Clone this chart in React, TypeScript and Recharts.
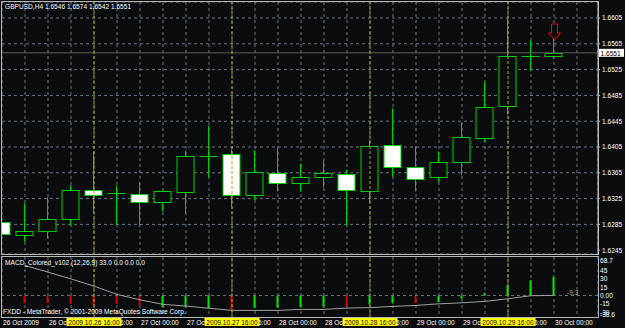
import {
  ComposedChart,
  Bar,
  Line,
  Scatter,
  XAxis,
  YAxis,
  CartesianGrid,
  ReferenceLine,
  Cell,
} from "recharts";

// GBPUSD H4, 26-30 Oct 2009
const opens = [1.6289, 1.6268, 1.6274, 1.6293, 1.6339, 1.6333, 1.6332, 1.632, 1.6336, 1.6391, 1.6394, 1.633, 1.6364, 1.6349, 1.6359, 1.6363, 1.6337, 1.6408, 1.6374, 1.6358, 1.6382, 1.6419, 1.6468, 1.6546, 1.6546];
const highs = [1.6326, 1.6318, 1.6327, 1.6346, 1.6398, 1.6345, 1.635, 1.6338, 1.6399, 1.6438, 1.6401, 1.64, 1.6403, 1.6379, 1.6384, 1.637, 1.6416, 1.6465, 1.6406, 1.6398, 1.6442, 1.6506, 1.6605, 1.657, 1.6574];
const lows = [1.6248, 1.6258, 1.6263, 1.6283, 1.6304, 1.6284, 1.6283, 1.6305, 1.6302, 1.6358, 1.6312, 1.6323, 1.6336, 1.6336, 1.6342, 1.6283, 1.632, 1.6359, 1.6336, 1.635, 1.6361, 1.6413, 1.6455, 1.6523, 1.6542];
const closes = [1.627, 1.6275, 1.6294, 1.6339, 1.6331, 1.6333, 1.632, 1.6337, 1.6391, 1.6391, 1.6331, 1.6366, 1.6349, 1.6359, 1.6364, 1.6339, 1.6407, 1.6374, 1.6356, 1.6381, 1.6421, 1.6467, 1.6546, 1.6546, 1.6551];

// MACD_Colored_v102 (12,26,9)
const macd = [null, -13.8, -13.8, -15, -17.9, -15, -17.9, -20.9, -20.9, -23, -25, -22, -22, -20.5, -20, -19.6, -16, -14, -14, -12, -6, 4, 18, 27, 33];
const signal = [null, 53.6, 41.6, 29.6, 16.6, 1.8, -7.9, -16, -19, -23, -26.8, -26.8, -26.8, -25, -25, -22.7, -21.8, -19.6, -17.9, -15, -13.2, -10.7, -6, -0.5, 0];
const macdRising = [false, false, false, false, false, false, false, true, true, true, false, true, true, true, true, false, true, true, false, true, true, true, true, true, true];

const timeLabels = ["26 Oct 2009", "26 Oct 08:00", "26 Oct 16:00", "27 Oct 00:00", "27 Oct 08:00", "27 Oct 16:00", "28 Oct 00:00", "28 Oct 08:00", "28 Oct 16:00", "29 Oct 00:00", "29 Oct 08:00", "29 Oct 16:00", "30 Oct 00:00"];
const markerIdx = [4, 10, 16, 22];
const markerLabels = ["2009.10.26 16:00", "2009.10.27 16:00", "2009.10.28 16:00", "2009.10.29 16:00"];

const priceTicks = [1.6245, 1.6285, 1.6325, 1.6365, 1.6405, 1.6445, 1.6485, 1.6525, 1.6565, 1.6605];
const bid = 1.6551;
const arrowData = [{ i: 24, price: 1.6574 }];

const macdMin = -38.6;
const macdMax = 68.7;
const macdTicks = [macdMin, -30, -15, 0, 15, 30, 45, macdMax];

const candles = opens.map((o, i) => ({
  i,
  open: o,
  high: highs[i],
  low: lows[i],
  close: closes[i],
  range: [lows[i], highs[i]],
}));

const macdData = macd.map((v, i) => ({ i, macd: v, signal: signal[i], rising: macdRising[i] }));

const slots = Array.from({ length: 26 }, (_, i) => i);
const X_MAX = 596 / 23;

const BG = "#0a0c0e";
const GREEN = "#00d000";
const GRID = "#6c7784";
const YELLOW = "#a8a800";
const FONT = "'Liberation Sans', Arial, sans-serif";
const FS = 6.6;

function Candle(props: any) {
  const { x, y, width, height, payload } = props;
  if (x == null || payload == null) return null;
  const { open, close, high, low } = payload;
  const top = Math.min(y, y + height);
  const h = Math.abs(height);
  const py = (p: number) => top + ((high - p) / (high - low)) * h;
  const cx = Math.floor(x + width / 2) + 0.5;
  const bTop = Math.round(py(Math.max(open, close))) + 0.5;
  const bBot = Math.round(py(Math.min(open, close))) + 0.5;
  const bear = close < open;
  return (
    <g>
      <line x1={cx} x2={cx} y1={top} y2={top + h} stroke={GREEN} strokeWidth={1} />
      {open === close ? (
        <line x1={cx - 9} x2={cx + 9} y1={bTop} y2={bTop} stroke={GREEN} strokeWidth={1} />
      ) : (
        <rect
          x={cx - 8.5}
          y={bTop}
          width={17}
          height={Math.max(bBot - bTop, 1)}
          fill={bear ? "#ffffff" : BG}
          stroke={GREEN}
          strokeWidth={1}
        />
      )}
    </g>
  );
}

function Arrow(props: any) {
  const { cx, cy } = props;
  if (cx == null) return null;
  const x = Math.floor(cx) + 0.5;
  const d = `M${x - 3},${cy - 14} L${x + 3},${cy - 14} L${x + 3},${cy - 5} L${x + 6},${cy - 5} L${x},${cy + 1.5} L${x - 6},${cy - 5} L${x - 3},${cy - 5} Z`;
  return <path d={d} fill={BG} stroke="#ff0000" strokeWidth={1} />;
}

function BidLabel(props: any) {
  const vb = props.viewBox;
  if (!vb) return null;
  const x = vb.x + vb.width + 1;
  return (
    <g>
      <rect x={x} y={vb.y - 4} width={25} height={8} fill="#ffffff" />
      <text x={x + 1.5} y={vb.y + 0.5} fontSize={FS} fontFamily={FONT} fill="#000" dominantBaseline="central">
        {bid.toFixed(4)}
      </text>
    </g>
  );
}

function TimeTick(props: any) {
  const { x, y, payload } = props;
  const i = payload.value;
  const m = markerIdx.indexOf(i);
  const ty = y + 5;
  return (
    <g>
      {i % 2 === 0 && timeLabels[i / 2] ? (
        <text x={x + 1} y={ty} fontSize={FS} fontFamily={FONT} fill="#ffffff" dominantBaseline="central">
          {timeLabels[i / 2]}
        </text>
      ) : null}
      {m >= 0 ? (
        <g>
          <rect x={x - 27.5} y={ty - 4} width={55} height={8} fill="#ffff00" />
          <text x={x} y={ty} fontSize={FS} fontFamily={FONT} fill="#000" textAnchor="middle" dominantBaseline="central">
            {markerLabels[m]}
          </text>
        </g>
      ) : null}
    </g>
  );
}

function MacdTick(props: any) {
  const { x, y, payload } = props;
  const v = payload.value;
  const text = v === 0 ? "0.00" : String(v);
  const dy = v === macdMax ? 3 : v === macdMin ? -3 : 0;
  return (
    <text x={x} y={y + dy} fontSize={FS} fontFamily={FONT} fill="#ffffff" dominantBaseline="central">
      {text}
    </text>
  );
}

export default function App() {
  return (
    <div style={{ position: "absolute", left: 0, top: 0, width: 625, height: 328, background: BG, overflow: "hidden" }}>
      <div style={{ position: "absolute", left: 0, top: 0 }}>
        <ComposedChart width={625} height={256} data={candles} margin={{ top: 2, right: 0, bottom: 2, left: 2 }}>
          <CartesianGrid stroke={GRID} strokeDasharray="3 3" />
          <XAxis dataKey="i" type="number" domain={[0, X_MAX]} ticks={slots} allowDataOverflow hide />
          <YAxis
            type="number"
            orientation="right"
            width={27}
            domain={[1.623911, 1.662981]}
            allowDataOverflow
            ticks={priceTicks}
            tickFormatter={(v: number) => v.toFixed(4)}
            tick={{ fill: "#ffffff", fontSize: FS, fontFamily: FONT }}
            tickSize={2}
            tickMargin={2}
            axisLine={{ stroke: "#b8b8b8" }}
            tickLine={{ stroke: "#b8b8b8" }}
          />
          <ReferenceLine y={bid} stroke="#5e5e5e" strokeWidth={1} label={<BidLabel />} />
          <Bar dataKey="range" barSize={18} shape={<Candle />} isAnimationActive={false} />
          {markerIdx.map((m) => (
            <ReferenceLine key={m} x={m} stroke={YELLOW} strokeDasharray="3 2" />
          ))}
          <Scatter data={arrowData} dataKey="price" shape={<Arrow />} isAnimationActive={false} />
        </ComposedChart>
      </div>
      <div style={{ position: "absolute", left: 0, top: 256 }}>
        <ComposedChart width={625} height={72} data={macdData} margin={{ top: 1, right: 0, bottom: 0, left: 2 }}>
          <CartesianGrid stroke={GRID} strokeDasharray="3 3" horizontal={false} />
          <XAxis
            dataKey="i"
            type="number"
            domain={[0, X_MAX]}
            ticks={slots}
            allowDataOverflow
            height={11}
            tickSize={0}
            tickMargin={0}
            axisLine={false}
            tickLine={false}
            tick={<TimeTick />}
            interval={0}
          />
          <YAxis
            type="number"
            orientation="right"
            width={27}
            domain={[macdMin, macdMax]}
            allowDataOverflow
            ticks={macdTicks}
            tick={<MacdTick />}
            tickSize={0}
            tickMargin={2}
            axisLine={false}
            tickLine={false}
            interval={0}
          />
          <ReferenceLine y={0} stroke={GRID} strokeDasharray="3 3" />
          <Bar dataKey="macd" barSize={2} isAnimationActive={false}>
            {macdData.map((d) => (
              <Cell key={d.i} fill={d.rising ? "#00e600" : "#d40000"} />
            ))}
          </Bar>
          <Line dataKey="signal" stroke="#a0a0a0" strokeWidth={1} dot={false} isAnimationActive={false} />
          {markerIdx.map((m) => (
            <ReferenceLine key={m} x={m} stroke={YELLOW} strokeDasharray="3 2" />
          ))}
        </ComposedChart>
      </div>
      <svg width={625} height={328} style={{ position: "absolute", left: 0, top: 0, pointerEvents: "none" }}>
        <rect x={1.5} y={1.5} width={597} height={253} fill="none" stroke="#b8b8b8" />
        <rect x={1.5} y={256.5} width={597} height={61} fill="none" stroke="#b8b8b8" />
        <g fontFamily={FONT} fontSize={FS} fill="#ffffff" dominantBaseline="central">
          <text x={5} y={6.5}>GBPUSD,H4  1.6546 1.6574 1.6542 1.6551</text>
          <text x={5} y={262.5}>MACD_Colored_v102 (12,26,9) 33.0 0.0 0.0 0.0</text>
          <text x={3} y={311}>FXDD - MetaTrader, © 2001-2009 MetaQuotes Software Corp.</text>
          <text x={567} y={292.5} fill="#a0a0a0">-9.3</text>
        </g>
      </svg>
    </div>
  );
}
